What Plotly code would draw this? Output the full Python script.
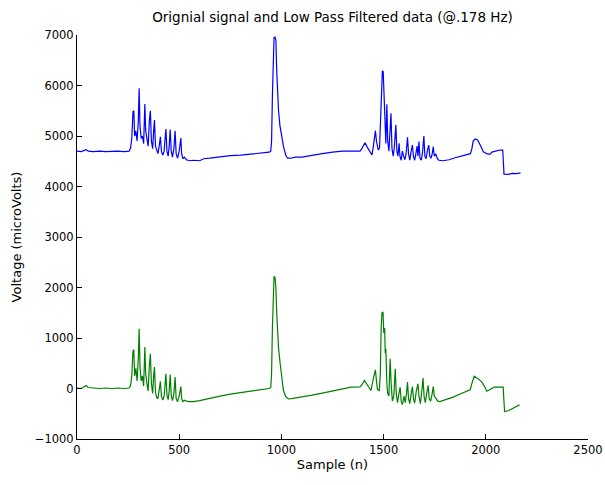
import plotly.graph_objects as go

# Original signal (offset around 4.7 mV) – sample index and voltage in microvolts
sample_orig = [0, 20, 45, 55, 80, 110, 140, 170, 200, 230, 255, 262, 268, 274, 278, 282, 288, 294, 300, 304,
               308, 314, 320, 326, 332, 336, 342, 348, 354, 359, 364, 370, 375, 379, 384, 390, 396, 402, 408,
               413, 420, 426, 430, 435, 440, 446, 451, 456, 461, 467, 474, 480, 485, 492, 500, 508, 512, 518,
               525, 535, 550, 570, 600, 620, 650, 700, 750, 800, 850, 900, 940, 948, 952, 956, 960, 964, 969,
               973, 977, 981, 986, 993, 1001, 1010, 1021, 1030, 1045, 1070, 1100, 1150, 1200, 1250, 1300,
               1350, 1385, 1395, 1409, 1420, 1432, 1443, 1450, 1456, 1460, 1465, 1470, 1474, 1480, 1486,
               1490, 1494, 1498, 1502, 1506, 1511, 1516, 1520, 1526, 1531, 1536, 1541, 1547, 1553, 1560,
               1565, 1570, 1576, 1580, 1586, 1592, 1598, 1604, 1610, 1617, 1622, 1628, 1635, 1641, 1646,
               1652, 1658, 1664, 1668, 1673, 1678, 1685, 1691, 1697, 1702, 1708, 1714, 1721, 1726, 1732,
               1738, 1743, 1748, 1755, 1762, 1770, 1790, 1820, 1850, 1880, 1910, 1925, 1932, 1938, 1948,
               1960, 1975, 1988, 2005, 2020, 2030, 2050, 2070, 2083, 2086, 2089, 2110, 2130, 2150, 2170]
volt_orig = [4700, 4690, 4730, 4700, 4690, 4700, 4690, 4700, 4700, 4690, 4700, 4760, 4950, 5480, 5500, 5000,
             5100, 4900, 5300, 5946, 5200, 4950, 5000, 4850, 5635, 5100, 4950, 4800, 5300, 5500, 4900,
             4750, 5100, 5317, 4800, 4700, 4650, 4800, 4986, 4700, 4620, 4700, 4900, 5137, 4700, 4600,
             4800, 5130, 4700, 4580, 4750, 5105, 4650, 4560, 4700, 4960, 4650, 4550, 4580, 4530, 4510,
             4520, 4510, 4550, 4560, 4590, 4610, 4620, 4640, 4660, 4680, 4700, 4900, 5800, 6600, 6950,
             6960, 6900, 6300, 5800, 5500, 5200, 5000, 4800, 4620, 4560, 4560, 4580, 4580, 4620, 4650,
             4680, 4700, 4700, 4700, 4760, 4868, 4780, 4700, 4623, 4800, 5000, 5105, 4900, 4760, 4722,
             4760, 5400, 6000, 6280, 6276, 5800, 5200, 4850, 5629, 4900, 4700, 5100, 5450, 4750, 4600,
             4800, 5218, 4700, 4600, 4855, 4600, 4520, 4700, 4600, 4530, 4650, 4973, 4650, 4520, 4700,
             4821, 4600, 4520, 4650, 4800, 4600, 4888, 4560, 4520, 4700, 5000, 4600, 4550, 4700, 4821,
             4600, 4560, 4650, 4788, 4600, 4650, 4560, 4520, 4510, 4530, 4570, 4600, 4630, 4650, 4750,
             4900, 4940, 4920, 4800, 4688, 4650, 4636, 4680, 4708, 4722, 4722, 4500, 4246, 4240, 4260,
             4255, 4270]

# Low pass filtered data (around 0 uV)
sample_filt = [0, 20, 45, 55, 80, 110, 140, 170, 200, 230, 255, 262, 268, 274, 278, 282, 288, 294, 300, 304,
               308, 314, 320, 326, 332, 336, 342, 348, 354, 359, 364, 370, 375, 379, 384, 390, 396, 402, 408,
               413, 420, 426, 430, 435, 440, 446, 451, 456, 461, 467, 474, 480, 485, 492, 500, 508, 512, 518,
               525, 535, 550, 570, 600, 620, 650, 700, 750, 800, 850, 900, 940, 948, 952, 956, 960, 964, 969,
               973, 977, 981, 986, 994, 1002, 1010, 1020, 1034, 1050, 1100, 1150, 1200, 1250, 1300, 1341,
               1385, 1395, 1406, 1420, 1438, 1450, 1456, 1460, 1465, 1470, 1479, 1484, 1488, 1492, 1497,
               1501, 1505, 1508, 1511, 1516, 1520, 1526, 1532, 1537, 1543, 1550, 1557, 1562, 1568, 1575,
               1581, 1586, 1592, 1600, 1606, 1612, 1617, 1622, 1628, 1635, 1641, 1646, 1652, 1660, 1668,
               1673, 1680, 1687, 1693, 1698, 1704, 1711, 1718, 1723, 1730, 1737, 1743, 1748, 1755, 1765,
               1775, 1800, 1840, 1880, 1910, 1924, 1932, 1943, 1960, 1981, 1995, 2005, 2020, 2041, 2060,
               2085, 2088, 2092, 2110, 2130, 2150, 2165]
volt_filt = [10, 0, 60, 20, 10, 0, 10, 0, 10, 0, 10, 60, 250, 750, 768, 250, 400, 150, 600, 1184, 450, 150,
             250, 50, 820, 300, 100, -50, 450, 688, 100, -100, 250, 423, -80, -180, -200, -50, 140, -150,
             -230, -150, 50, 291, -130, -220, -50, 277, -140, -240, -100, 225, -200, -260, -150, 40, -200,
             -260, -230, -250, -258, -260, -240, -220, -190, -150, -110, -80, -50, -20, 0, 20, 300, 1200,
             1900, 2222, 2200, 2000, 1500, 1000, 800, 490, 200, -40, -150, -205, -200, -170, -130, -90,
             -50, -10, 26, 30, 80, 159, 60, -40, 200, 330, 369, 150, -20, -40, 300, 1200, 1500, 1514,
             1100, 1200, 700, 787, 100, -100, -150, 589, 100, -250, -150, 390, -100, -280, -100, 26,
             -250, -320, -150, -280, -100, 126, -200, -300, -100, 40, -200, -290, -50, 93, -150, -300,
             -50, 205, -150, -280, -100, 60, -200, -250, -120, 40, -150, -200, -250, -258, -230, -170,
             -100, -50, -26, 100, 244, 200, 126, 30, -53, -20, 26, 26, 26, -200, -456, -440, -400, -360,
             -324]

x_ticks = [0, 500, 1000, 1500, 2000, 2500]
y_ticks = [-1000, 0, 1000, 2000, 3000, 4000, 5000, 6000, 7000]

FONT = "DejaVu Sans"

fig = go.Figure()
fig.add_trace(go.Scatter(x=sample_orig, y=volt_orig, mode="lines",
                         line=dict(color="#0000ff", width=1.2), showlegend=False))
fig.add_trace(go.Scatter(x=sample_filt, y=volt_filt, mode="lines",
                         line=dict(color="#008000", width=1.2), showlegend=False))

axis_common = dict(showgrid=False, zeroline=False, showline=True, linecolor="black", linewidth=1,
                   ticks="inside", ticklen=5, tickcolor="black", mirror=False,
                   ticklabeloverflow="allow", automargin=False,
                   tickfont=dict(family=FONT, size=11.5, color="black"))

fig.update_layout(
    width=605, height=485,
    margin=dict(l=77, r=17, t=35, b=46),
    paper_bgcolor="white", plot_bgcolor="white",
    title=dict(text="Orignial signal and Low Pass Filtered data (@.178 Hz)",
               font=dict(family=FONT, size=13.5, color="black"),
               x=(77 + 588) / 2 / 605, xanchor="center",
               y=1 - 17 / 485, yanchor="middle", yref="container"),
    xaxis=dict(range=[-0.01, 2500.01], tickvals=x_ticks, ticktext=[str(t) for t in x_ticks],
               title=dict(text="Sample (n)", font=dict(family=FONT, size=13, color="black"), standoff=4),
               **axis_common),
    yaxis=dict(range=[-1000.01, 7000.01], tickvals=y_ticks,
               title=dict(text="Voltage (microVolts)", font=dict(family=FONT, size=13, color="black"),
                          standoff=10),
               **axis_common),
)

fig.write_html("out.html")
